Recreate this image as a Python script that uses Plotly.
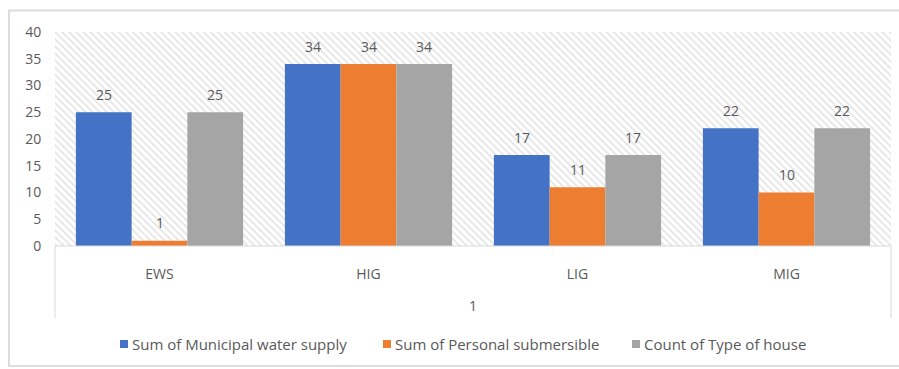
import plotly.graph_objects as go

# Data
categories = ["EWS", "HIG", "LIG", "MIG"]
municipal = [25, 34, 17, 22]
personal = [1, 34, 11, 10]
house_count = [25, 34, 17, 22]
series_names = ["Sum of Municipal water supply", "Sum of Personal submersible", "Count of Type of house"]
series_colors = ["#4472C4", "#ED7D31", "#A5A5A5"]
group_label = "1"
y_ticks = [0, 5, 10, 15, 20, 25, 30, 35, 40]

W, H = 899, 369
L, R, T, B = 55, 8, 32, 123
PW, PH = W - L - R, H - T - B
FONT = "Open Sans"
TXT = "#595959"
LINE = "#d9d9d9"


def px(x):
    return (x - L) / PW


def py(y):
    return (H - B - y) / PH


fig = go.Figure()

# hatched plot-area background (on the base axes, drawn beneath the bars)
fig.add_trace(go.Scatter(
    x=[0, 1, 1, 0, 0], y=[0, 0, 1, 1, 0], mode="lines", fill="toself",
    line=dict(width=0), fillcolor="white",
    fillpattern=dict(shape="\\", fgcolor="#cdcdcd", bgcolor="white", size=5, solidity=0.4),
    hoverinfo="skip", showlegend=False, xaxis="x", yaxis="y",
))

values = [municipal, personal, house_count]
for name, vals, col in zip(series_names, values, series_colors):
    fig.add_trace(go.Bar(
        x=categories, y=vals, name=name, marker=dict(color=col, line=dict(width=0)),
        xaxis="x2", yaxis="y2", showlegend=False,
    ))

# value labels above each bar
bargap = 0.2
bar_px = PW / len(categories) * (1 - bargap) / len(values)
annotations = []
for i, vals in enumerate(values):
    for c, v in zip(categories, vals):
        annotations.append(dict(
            x=c, y=v, xref="x2", yref="y2", text=str(v), showarrow=False,
            xshift=(i - 1) * bar_px, yshift=18, yanchor="middle",
            font=dict(family=FONT, size=14, color=TXT),
        ))

# outer group label
annotations.append(dict(
    x=0.5, y=py(305), xref="paper", yref="paper", text=group_label, showarrow=False,
    yanchor="middle", font=dict(family=FONT, size=14, color=TXT),
))

# legend drawn as swatches + text
shapes = []
legend_x = [120, 383, 632]
legend_y = 344
for name, col, lx in zip(series_names, series_colors, legend_x):
    shapes.append(dict(type="rect", xref="paper", yref="paper",
                       x0=px(lx), x1=px(lx + 8), y0=py(legend_y + 4), y1=py(legend_y - 4),
                       fillcolor=col, line=dict(width=0)))
    annotations.append(dict(
        x=px(lx + 10), y=py(legend_y), xref="paper", yref="paper", text=name,
        showarrow=False, xanchor="left", yanchor="middle",
        font=dict(family=FONT, size=15, color=TXT),
    ))

# category axis frame lines
shapes += [
    dict(type="line", xref="paper", yref="paper", x0=0, x1=1, y0=0, y1=0,
         line=dict(color=LINE, width=1)),
    dict(type="line", xref="paper", yref="paper", x0=0, x1=0, y0=0, y1=py(318),
         line=dict(color=LINE, width=1)),
    dict(type="line", xref="paper", yref="paper", x0=1, x1=1, y0=0, y1=py(318),
         line=dict(color=LINE, width=1)),
    # chart border
    dict(type="rect", xref="paper", yref="paper", x0=px(9), x1=px(901), y0=py(366), y1=py(10.5),
         line=dict(color="#dcdcdc", width=2), fillcolor="rgba(0,0,0,0)", layer="below"),
]

fig.update_layout(
    width=W, height=H,
    margin=dict(l=L, r=R, t=T, b=B),
    paper_bgcolor="white", plot_bgcolor="white",
    barmode="group", bargap=bargap, bargroupgap=0,
    showlegend=False,
    xaxis=dict(range=[0, 1], visible=False, fixedrange=True),
    yaxis=dict(range=[0, 1], visible=False, fixedrange=True),
    xaxis2=dict(overlaying="x", side="bottom", showgrid=False, showline=False, zeroline=False,
                ticks="outside", ticklen=15, tickcolor="rgba(0,0,0,0)",
                tickfont=dict(family=FONT, size=14, color=TXT)),
    yaxis2=dict(overlaying="y", side="left", range=[0, 40], tickvals=y_ticks,
                showgrid=False, showline=False, zeroline=False,
                ticks="outside", ticklen=10, tickcolor="rgba(0,0,0,0)",
                tickfont=dict(family=FONT, size=14, color=TXT)),
    annotations=annotations,
    shapes=shapes,
)

fig.write_html("out.html")
